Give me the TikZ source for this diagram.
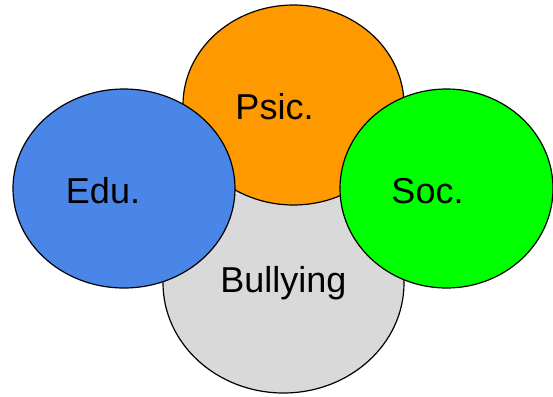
\documentclass[tikz,border=0pt]{standalone}
\usepackage{fontspec}
\setmainfont{Liberation Sans}
\usetikzlibrary{shapes.geometric}
\definecolor{edublue}{HTML}{4A86E8}
\definecolor{psicorange}{HTML}{FF9900}
\definecolor{socgreen}{HTML}{00FF00}
\definecolor{bullgray}{HTML}{D9D9D9}
\tikzset{
  Bubble/.style={ellipse, draw=black, line width=1.2pt, inner sep=0pt},
  Label/.style={anchor=base, inner sep=0pt, font=\fontsize{36}{40}\selectfont}
}
\begin{document}
\begin{tikzpicture}[x=1pt,y=-1pt]
  \useasboundingbox (0,0) rectangle (553,396);
  \node[Bubble, fill=bullgray, minimum width=241pt, minimum height=220pt] (B) at (283.5,283) {};
  \node[Bubble, fill=psicorange, minimum width=221pt, minimum height=200pt] (P) at (293.5,105) {};
  \node[Bubble, fill=edublue, minimum width=222pt, minimum height=199pt] (E) at (124,188.5) {};
  \node[Bubble, fill=socgreen, minimum width=213pt, minimum height=199pt] (S) at (446.5,188.5) {};
  \node[Label] (Bt) at (283.5,292) {Bullying};
  \node[Label] (Pt) at (274.5,119) {Psic.};
  \node[Label] (Et) at (103,203) {Edu.};
  \node[Label] (St) at (427.5,203) {Soc.};
\end{tikzpicture}
\end{document}
